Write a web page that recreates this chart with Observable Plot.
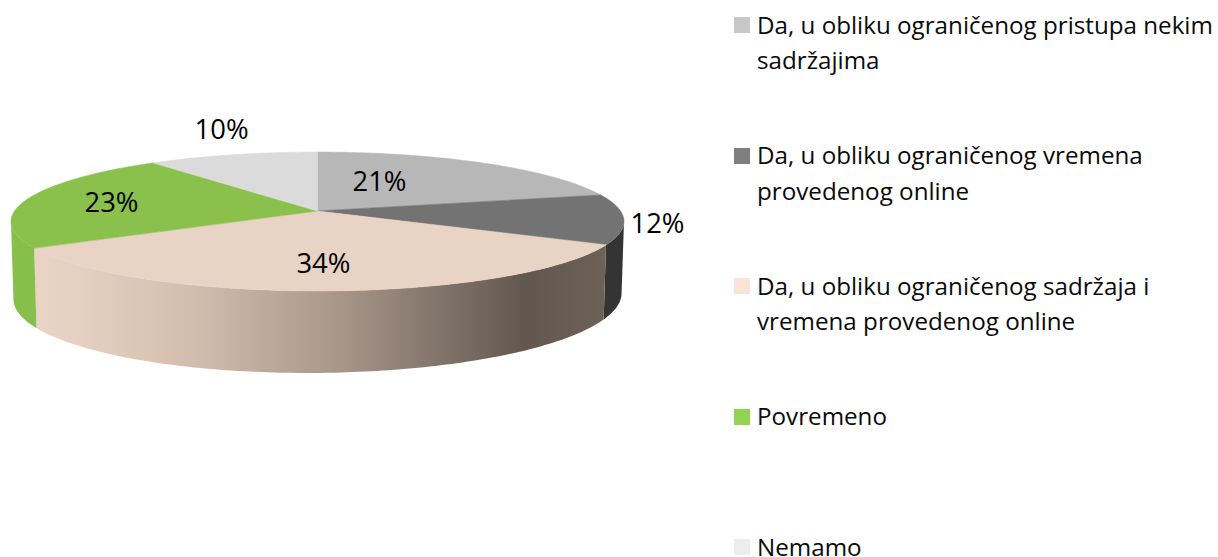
<!DOCTYPE html>
<html lang="hr">
<head>
<meta charset="utf-8">
<script src="https://cdn.jsdelivr.net/npm/d3@7"></script>
<script src="https://cdn.jsdelivr.net/npm/@observablehq/plot@0.6"></script>
<style>
  html, body { margin: 0; padding: 0; background: #fff; width: 1218px; height: 557px; overflow: hidden; }
  #chart { position: relative; width: 1218px; height: 557px; font-family: "Open Sans", sans-serif; color: #000; }
  #chart svg { position: absolute; left: 0; top: 0; background: transparent; }
  #legend { position: absolute; left: 734px; top: 6.5px; width: 484px; }
  .entry { display: flex; align-items: flex-start; height: 130.6px; font-size: 24.2px; line-height: 35.5px; color: #0a0a0a; }
  .swatch { flex: none; width: 16px; height: 16px; margin-top: 10.5px; margin-right: 7px; }
  .entry span { white-space: pre; }
</style>
</head>
<body>
<div id="chart"><div id="legend"></div></div>
<script>
// Data
const categories = [
  "Da, u obliku ograničenog pristupa nekim\nsadržajima",
  "Da, u obliku ograničenog vremena\nprovedenog online",
  "Da, u obliku ograničenog sadržaja i\nvremena provedenog online",
  "Povremeno",
  "Nemamo"
];
const shares = [21.1, 11.6, 33.9, 23.0, 10.4];
const labels = ["21%", "12%", "34%", "23%", "10%"];

// Style
const legendColors = ["#c8c8c8", "#7f7f7f", "#fbe3d6", "#92d350", "#ededed"];
const topColors = ["#b7b7b7", "#737373", "#e9d3c5", "#89c14c", "#dbdbdb"];
const sideColors = ["#7d7d7d", "#343434", "url(#wallGradient)", "#86bf4c", "#9a9a9a"];
// Label anchors on the pie's plane (unit disc coordinates, v towards the viewer)
const labelU = [0.217, 1.089, 0.016, -0.694, -0.388];
const labelV = [-0.457, 0.186, 0.698, -0.12, -1.454];

// Perspective of the tilted disc
const k = 0.151, topH = 0.2241, botR = 0.992, botC = 0.2429, botH = 0.2475, botTilt = -0.0099;
const projX = (u, v, r = 1) => r * u / (1 - k * v);
const projY = (v, c, h) => c + h * v / (1 - k * v);

// The wall is only visible between the two silhouette points of the disc
const wallFrom = Math.acos(-k), wallTo = 2 * Math.PI - wallFrom;

const sample = (a0, a1) => {
  const n = Math.ceil((a1 - a0) / (Math.PI / 180));
  return d3.range(n + 1).map(j => {
    const a = a0 + (a1 - a0) * j / n, u = Math.sin(a), v = -Math.cos(a);
    return {
      tx: projX(u, v), ty: projY(v, 0, topH),
      bx: projX(u, v, botR), by: projY(v, botC, botH) + botTilt * u,
      ax: 0, ay: 0
    };
  });
};

const total = d3.sum(shares);
let acc = 0;
const slices = shares.map((s, i) => {
  const a0 = acc / total * 2 * Math.PI; acc += s;
  const a1 = acc / total * 2 * Math.PI;
  const w0 = Math.max(a0, wallFrom), w1 = Math.min(a1, wallTo);
  return {i, face: sample(a0, a1), wall: w1 > w0 ? sample(w0, w1) : []};
});
const labelRows = labels.map((t, i) => ({
  t, x: projX(labelU[i], labelV[i]), y: projY(labelV[i], 0, topH)
}));

function gradientDefs() {
  const ns = "http://www.w3.org/2000/svg";
  const defs = document.createElementNS(ns, "defs");
  const g = document.createElementNS(ns, "linearGradient");
  g.setAttribute("id", "wallGradient");
  g.setAttribute("x1", "0"); g.setAttribute("x2", "1"); g.setAttribute("y1", "0"); g.setAttribute("y2", "0");
  [[0, "#e9d3c5"], [0.08, "#e6d0c2"], [0.3, "#cfbaac"], [0.534, "#a8968a"], [0.72, "#7f7268"], [0.86, "#62574f"], [1, "#6d6258"]]
    .forEach(([o, c]) => {
      const s = document.createElementNS(ns, "stop");
      s.setAttribute("offset", o); s.setAttribute("stop-color", c);
      g.appendChild(s);
    });
  defs.appendChild(g);
  return defs;
}

const pxPerUnit = 303, cx = 317.5, cy = 211;
const plot = Plot.plot({
  width: 1218, height: 557,
  margin: 0,
  style: {background: "transparent"},
  x: {domain: [-cx / pxPerUnit, (1218 - cx) / pxPerUnit], range: [0, 1218], axis: null},
  y: {domain: [-cy / pxPerUnit, (557 - cy) / pxPerUnit], range: [0, 557], axis: null},
  marks: [
    gradientDefs,
    ...slices.map(({wall, i}) => Plot.area(wall, {
      x1: "tx", y1: "ty", x2: "bx", y2: "by", fill: sideColors[i]
    })),
    ...slices.map(({face, i}) => Plot.area(face, {
      x1: "ax", y1: "ay", x2: "tx", y2: "ty", fill: topColors[i], stroke: topColors[i], strokeWidth: 0.5
    })),
    Plot.text(labelRows, {
      x: "x", y: "y", text: "t", fontSize: 27.4, fill: "#000",
      fontFamily: '"Open Sans", sans-serif', textAnchor: "middle"
    })
  ]
});
document.getElementById("chart").prepend(plot);

// Legend
const legend = document.getElementById("legend");
categories.forEach((c, i) => {
  const e = document.createElement("div"); e.className = "entry";
  const s = document.createElement("div"); s.className = "swatch"; s.style.background = legendColors[i];
  const t = document.createElement("span"); t.textContent = c;
  e.append(s, t); legend.append(e);
});
</script>
</body>
</html>
